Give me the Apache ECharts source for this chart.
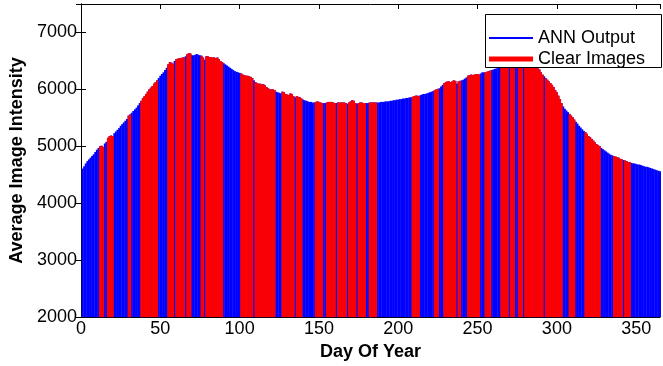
<!DOCTYPE html>
<html>
<head>
<meta charset="utf-8">
<script src="https://cdn.jsdelivr.net/npm/echarts@6/dist/echarts.min.js"></script>
<style>
  html, body { margin: 0; padding: 0; background: #fff; }
  #chart { width: 663px; height: 366px; }
</style>
</head>
<body>
<div id="chart"></div>
<script>
// ANN output, one value per day (day 1 .. 365)
var annOutput = [
  4610, 4650, 4700, 4740, 4770, 4800, 4830, 4860, 4900, 4940,
  4970, 5000, 5010, 4990, 5050, 5080, 5150, 5180, 5190, 5180,
  5230, 5260, 5290, 5320, 5360, 5390, 5420, 5450, 5480, 5540,
  5560, 5590, 5620, 5650, 5680, 5720, 5760, 5800, 5850, 5880,
  5920, 5960, 6000, 6030, 6060, 6100, 6130, 6160, 6200, 6240,
  6270, 6300, 6340, 6380, 6440, 6480, 6470, 6450, 6500, 6530,
  6540, 6550, 6550, 6560, 6560, 6580, 6620, 6640, 6630, 6600,
  6600, 6610, 6620, 6610, 6600, 6590, 6560, 6520, 6580, 6580,
  6570, 6570, 6560, 6560, 6550, 6560, 6530, 6500, 6480, 6460,
  6440, 6420, 6400, 6380, 6360, 6340, 6320, 6310, 6300, 6290,
  6280, 6260, 6250, 6240, 6240, 6230, 6220, 6200, 6160, 6130,
  6110, 6100, 6100, 6090, 6090, 6070, 6040, 6020, 6000, 6000,
  6000, 5990, 5960, 5950, 5940, 5930, 5960, 5950, 5920, 5910,
  5900, 5930, 5920, 5880, 5860, 5880, 5870, 5860, 5840, 5820,
  5810, 5800, 5790, 5780, 5780, 5770, 5770, 5780, 5790, 5780,
  5770, 5760, 5760, 5760, 5770, 5780, 5780, 5780, 5770, 5760,
  5760, 5770, 5770, 5770, 5770, 5770, 5760, 5750, 5770, 5790,
  5810, 5800, 5760, 5750, 5760, 5770, 5770, 5760, 5760, 5760,
  5760, 5770, 5770, 5770, 5770, 5770, 5770, 5770, 5780, 5780,
  5780, 5790, 5790, 5790, 5800, 5800, 5810, 5810, 5820, 5820,
  5830, 5830, 5840, 5840, 5850, 5850, 5860, 5860, 5870, 5880,
  5890, 5890, 5880, 5900, 5910, 5920, 5920, 5930, 5940, 5950,
  5960, 5970, 5990, 6000, 6010, 6020, 6050, 6080, 6110, 6130,
  6140, 6140, 6130, 6140, 6160, 6150, 6100, 6140, 6150, 6160,
  6170, 6190, 6210, 6240, 6250, 6260, 6250, 6260, 6270, 6270,
  6260, 6280, 6300, 6300, 6300, 6310, 6320, 6330, 6340, 6350,
  6360, 6370, 6380, 6390, 6420, 6440, 6450, 6460, 6460, 6460,
  6460, 6470, 6470, 6470, 6470, 6470, 6470, 6460, 6450, 6450,
  6440, 6440, 6430, 6420, 6410, 6400, 6390, 6370, 6350, 6300,
  6260, 6230, 6200, 6170, 6140, 6110, 6080, 6040, 5990, 5950,
  5890, 5830, 5760, 5700, 5660, 5630, 5600, 5570, 5540, 5510,
  5470, 5430, 5400, 5360, 5330, 5300, 5270, 5250, 5220, 5180,
  5160, 5130, 5100, 5070, 5040, 5020, 5000, 4970, 4950, 4930,
  4910, 4890, 4870, 4850, 4840, 4830, 4820, 4810, 4800, 4780,
  4770, 4760, 4750, 4740, 4720, 4720, 4710, 4700, 4700, 4690,
  4680, 4680, 4670, 4660, 4650, 4640, 4640, 4630, 4620, 4610,
  4600, 4590, 4580, 4570, 4560
];

// days with clear images
var clearDays = [
  12, 13, 14, 17, 18, 19, 20, 30, 31,
  38, 39, 40, 41, 42, 43, 44, 45, 46, 47, 48,
  55, 56, 57, 58, 60, 61, 62, 63, 64, 65, 67, 68, 69, 76, 77,
  79, 80, 81, 82, 83, 84, 85, 86, 87, 88, 89,
  101, 102, 103, 104, 105, 106, 107, 108,
  110, 111, 112, 113, 114, 115, 116, 117, 118, 119, 120, 121, 122,
  127, 128, 129, 130, 131, 132, 133, 134, 136, 137, 138, 139,
  148, 149, 150, 151, 152, 155, 156, 157, 158, 159, 160,
  162, 163, 164, 165, 166, 167, 169, 170, 171, 172, 173,
  175, 176, 177, 178, 179, 182, 183, 184, 185, 186,
  209, 210, 211, 212, 213, 223, 224, 225,
  229, 230, 231, 232, 233, 234, 235, 236, 238, 239,
  244, 245, 246, 247, 248, 249, 250, 251, 255, 256, 257, 258,
  265, 266, 267, 268, 269, 271, 272, 273, 276, 277, 278,
  280, 281, 282, 283, 284, 285, 286, 287, 288, 289, 290, 291,
  293, 294, 295, 296, 297, 298, 299, 300, 301, 302, 303,
  308, 309, 310, 311,
  318, 319, 320, 321, 322, 323, 324, 325, 326, 327,
  336, 337, 338, 339, 340, 341, 343, 344, 345, 346
];

var yTicks = [2000, 3000, 4000, 5000, 6000, 7000];
var xTicks = [0, 50, 100, 150, 200, 250, 300, 350];

var annData = annOutput.map(function (v, i) { return [i + 1, v]; });
var clearData = clearDays.map(function (d) { return [d, annOutput[d - 1]]; });

var font = 'Liberation Sans, Arial, sans-serif';
var chart = echarts.init(document.getElementById('chart'));

var option = {
  animation: false,
  textStyle: { fontFamily: font, color: '#000' },
  grid: { left: 81, right: -4, top: 4, bottom: 46 },
  legend: [
    {
      data: ['ANN Output'],
      left: 484, top: 24, z: 10,
      itemWidth: 44, itemHeight: 2, itemGap: 0,
      icon: 'rect',
      selectedMode: false,
      textStyle: { fontSize: 18, fontFamily: font, color: '#000' }
    },
    {
      data: ['Clear Images'],
      left: 484, top: 45, z: 10,
      itemWidth: 44, itemHeight: 5, itemGap: 0,
      icon: 'rect',
      selectedMode: false,
      textStyle: { fontSize: 18, fontFamily: font, color: '#000' }
    }
  ],
  // legend box (white, over the bars, under the legend items)
  graphic: [{
    type: 'rect',
    left: 485, top: 14,
    shape: { width: 176, height: 53 },
    style: { fill: '#fff', stroke: '#000', lineWidth: 1 },
    z: 5
  }],
  xAxis: [
    {
      type: 'value', min: 0, max: 365, interval: 50,
      name: 'Day Of Year', nameLocation: 'middle', nameGap: 24,
      nameTextStyle: { fontSize: 18, fontWeight: 'bold', fontFamily: font, color: '#000' },
      axisLine: { lineStyle: { color: '#000', width: 1 } },
      axisTick: { inside: true, length: 5, lineStyle: { color: '#000' } },
      axisLabel: {
        fontSize: 18, color: '#000', margin: 3,
        formatter: function (v) { return xTicks.indexOf(v) >= 0 ? v : ''; }
      },
      splitLine: { show: false }
    },
    {
      type: 'value', min: 0, max: 365, interval: 50, position: 'top',
      axisLine: { lineStyle: { color: '#000', width: 1 } },
      axisTick: { inside: true, length: 5, lineStyle: { color: '#000' } },
      axisLabel: { show: false },
      splitLine: { show: false }
    }
  ],
  yAxis: [
    {
      type: 'value', min: 2000, max: 7500, interval: 1000,
      name: 'Average Image Intensity', nameLocation: 'middle', nameGap: 55,
      nameTextStyle: { fontSize: 18, fontWeight: 'bold', fontFamily: font, color: '#000' },
      axisLine: { show: true, lineStyle: { color: '#000', width: 1 } },
      axisTick: { show: true, inside: true, length: 5, lineStyle: { color: '#000' } },
      axisLabel: {
        fontSize: 18, color: '#000', margin: 4,
        formatter: function (v) { return yTicks.indexOf(v) >= 0 ? v : ''; }
      },
      splitLine: { show: false }
    },
    {
      type: 'value', min: 2000, max: 7500, interval: 1000, position: 'right',
      axisLine: { show: true, lineStyle: { color: '#000', width: 1 } },
      axisTick: { show: true, inside: true, length: 5, lineStyle: { color: '#000' } },
      axisLabel: { show: false },
      splitLine: { show: false }
    }
  ],
  series: [
    {
      name: 'ANN Output', type: 'bar',
      data: annData,
      barWidth: 2, barGap: '-100%',
      itemStyle: { color: '#0000ff' }
    },
    {
      name: 'Clear Images', type: 'bar',
      data: clearData,
      barWidth: 2, barGap: '-100%',
      itemStyle: { color: '#ff0000' }
    }
  ]
};

chart.setOption(option);
</script>
</body>
</html>
